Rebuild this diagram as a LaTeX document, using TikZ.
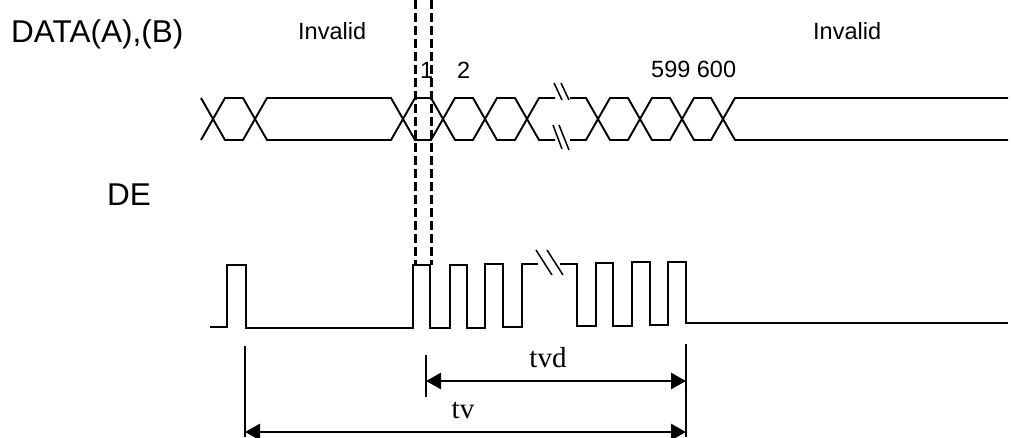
\documentclass[tikz,border=0pt]{standalone}
\usepackage{fontspec}
\setmainfont{Liberation Sans}
\newfontfamily\serifface{Liberation Serif}
\usetikzlibrary{arrows.meta}
\begin{document}
\begin{tikzpicture}[x=1pt,y=-1pt,
  sig/.style={line width=1.9pt,line join=miter},
  brk/.style={line width=1.5pt},
  guide/.style={line width=3pt,dash pattern=on 9pt off 4pt},
  ext/.style={line width=1.4pt},
  dimarrow/.style={line width=2.8pt,{Triangle[length=15pt,width=16pt]}-{Triangle[length=15pt,width=16pt]}},
  biglabel/.style={anchor=base west,inner sep=0pt,font=\fontsize{31.5}{38}\selectfont},
  smalllabel/.style={anchor=base west,inner sep=0pt,font=\fontsize{23.5}{28}\selectfont},
  timelabel/.style={anchor=base,inner sep=0pt,font=\serifface\fontsize{29}{34}\selectfont}]
\useasboundingbox (0,0) rectangle (1011,437);
% labels
\node[biglabel] (data) at (11,42) {DATA(A),(B)};
\node[smalllabel] (inv1) at (298,39) {Invalid};
\node[smalllabel] (inv2) at (813,39) {Invalid};
\node[smalllabel] (n1) at (420,78) {1};
\node[smalllabel] (n2) at (457,78) {2};
\node[smalllabel] (n599) at (651,77) {599 600};
\node[biglabel] (de) at (107,205) {DE};
% data bus
\draw[sig] (201,98)--(225,140)--(243,140)--(267,98)--(391,98)--(415,140)--(431,140)--(455,98)--(473,98)--(497,140)--(515,140)--(539,98)--(555,98);
\draw[sig] (201,140)--(225,98)--(243,98)--(267,140)--(391,140)--(415,98)--(431,98)--(455,140)--(473,140)--(497,98)--(515,98)--(539,140)--(555,140);
\draw[sig] (570,98)--(586,98)--(610,140)--(628,140)--(652,98)--(670,98)--(694,140)--(711,140)--(735,98)--(1008,98);
\draw[sig] (570,140)--(586,140)--(610,98)--(628,98)--(652,140)--(670,140)--(694,98)--(711,98)--(735,140)--(1008,140);
% break marks on bus
\draw[brk] (554,83)--(562,100) (561,83)--(569,100);
\draw[brk] (553,125)--(562,149) (559,125)--(569,150);
% DE signal
\draw[sig] (210,327)--(227,327)--(227,265)--(246,265)--(246,328)--(413,328)--(413,265)--(430,265)--(430,328)--(450,328)--(450,265)--(467,265)--(467,328)--(485,328)--(485,264)--(503,264)--(503,327)--(522,327)--(522,264)--(538,264);
\draw[sig] (560,264)--(577,264)--(577,326)--(596,326)--(596,263)--(613,263)--(613,326)--(632,326)--(632,262)--(650,262)--(650,325)--(668,325)--(668,262)--(686,262)--(686,323)--(1008,323);
\draw[brk] (536,250)--(552,275) (547,250)--(563,275);
% dashed guides
\coordinate (g1t) at (415,0); \coordinate (g1b) at (415,265);
\coordinate (g2t) at (431,0); \coordinate (g2b) at (431,265);
\draw[guide] (g1t)--(g1b);
\draw[guide] (g2t)--(g2b);
% dimension lines
\coordinate (tvL) at (245,432); \coordinate (tvR) at (686,432);
\coordinate (tvdL) at (426,381); \coordinate (tvdR) at (686,381);
\draw[ext] (245,346)--(245,437);
\draw[ext] (426,355)--(426,397);
\draw[ext] (686,344)--(686,437);
\draw[dimarrow] (tvdL)--(tvdR);
\draw[dimarrow] (tvL)--(tvR);
\node[timelabel] (tvd) at (548,367) {tvd};
\node[timelabel] (tv) at (463,418) {tv};
\end{tikzpicture}
\end{document}
